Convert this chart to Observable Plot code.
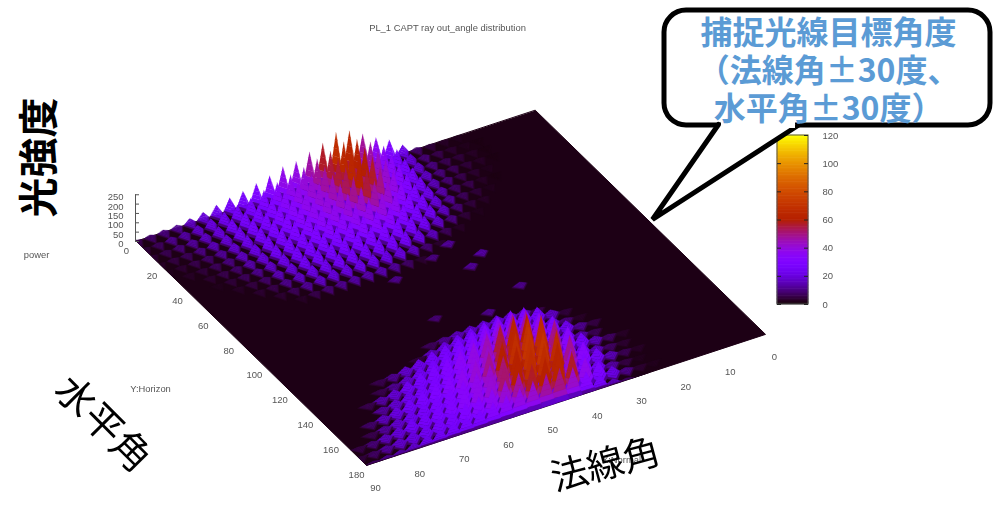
<!DOCTYPE html>
<html><head><meta charset="utf-8">
<script src="https://cdn.jsdelivr.net/npm/d3@7"></script>
<script src="https://cdn.jsdelivr.net/npm/@observablehq/plot@0.6"></script>
<style>html,body{margin:0;background:#fff}svg{display:block}</style>
</head><body><div id="chart"></div>
<script>
const normalCols = [90,87,84,81,78,75,72,69,66,63,60,57,54,51,48,45,42,39,36,33,30,27,24,21,18,15,12];
const backRows = [0,6,12,18,24,30,36,42,48,54,60,66];
const backPower = [
[8,12,15,18,30,40,55,70,82,100,118,143,148,175,198,232,218,178,135,100,50,12,6,4,3,0,0],
[6,10,18,22,34,46,58,72,84,104,122,140,155,178,195,222,212,175,130,88,42,14,8,5,3,2,0],
[5,9,14,20,32,44,60,76,88,106,124,142,158,176,195,220,206,170,125,80,36,16,9,6,4,2,0],
[4,7,10,16,26,40,58,78,90,108,124,140,155,172,190,210,198,160,118,72,32,15,10,6,4,2,0],
[3,5,8,12,20,36,54,74,90,106,120,136,150,165,180,195,182,146,106,62,28,14,8,5,3,0,0],
[0,4,6,10,16,30,48,68,86,100,114,128,140,152,165,175,160,126,90,52,24,12,8,4,2,0,0],
[0,0,5,8,12,24,42,60,80,92,104,116,126,136,145,150,136,106,74,42,20,10,6,3,0,0,0],
[0,0,3,6,10,18,34,52,70,82,92,102,110,118,122,122,108,84,56,32,14,6,4,0,0,0,0],
[0,0,0,4,7,12,26,42,60,70,78,86,92,98,98,94,80,60,36,16,6,3,0,0,0,0,0],
[0,0,0,0,5,8,18,32,48,56,62,68,72,74,72,66,50,28,10,4,0,0,0,0,0,0,0],
[0,0,0,0,0,5,10,20,32,42,46,50,52,50,44,30,14,5,0,0,0,0,0,0,0,0,0],
[0,0,0,0,0,0,4,8,14,18,22,24,24,20,12,5,0,0,0,0,0,0,0,0,0,0,0]];
const frontRows = [120,126,132,138,144,150,156,162,168,174,180];
const frontShift = [1.5,0,1.5,0,1.5,0,1.5,0,1.5,0,1.5];
const frontPower = [
[0,0,0,0,0,0,0,0,0,0,0,10,18,26,32,36,40,36,26,8,0,0,0,0,0,0,0],
[0,0,0,0,0,0,0,0,0,6,26,44,58,70,80,88,96,90,68,30,6,0,0,0,0,0,0],
[0,0,0,0,0,0,8,18,34,50,68,80,92,104,118,132,136,118,88,42,14,4,0,0,0,0,0],
[0,0,0,0,0,8,18,34,56,76,92,108,122,142,160,180,176,140,100,52,18,7,0,0,0,0,0],
[0,0,0,0,8,22,38,58,80,98,110,130,148,172,195,218,208,162,115,62,22,9,0,0,0,0,0],
[0,0,0,0,20,36,54,74,94,110,126,146,165,195,220,238,230,182,124,66,26,11,4,0,0,0,0],
[0,0,0,12,28,46,64,84,104,118,136,156,180,208,235,245,232,185,126,68,27,11,5,0,0,0,0],
[0,0,8,20,36,54,72,92,108,122,142,162,185,212,238,245,230,180,122,64,25,9,4,0,0,0,0],
[0,7,14,28,42,62,72,92,106,124,142,158,186,210,232,232,214,164,112,58,21,7,3,0,0,0,0],
[6,11,20,34,46,58,76,86,106,118,136,158,176,198,210,216,198,142,96,47,17,5,3,0,0,0,0],
[7,11,18,24,38,54,62,78,88,100,116,130,146,160,176,182,163,116,76,31,11,3,0,0,0,0,0]];
const strayNormal = [38,34,43,38,53,43,53,33];
const strayHorizon = [63,75,68,81,74,112,105,102];
const strayPower = [20,22,16,20,18,18,14,18];

const horizonTicks = [0,20,40,60,80,100,120,140,160,180];
const normalTicks = [0,10,20,30,40,50,60,70,80,90];
const powerTicks = [0,50,100,150,200,250];
const colorTicks = [0,20,40,60,80,100,120];
const powerToColor = {power:[0,8,25,60,100,130,170,200,250], level:[0,6,15,24,29,35,44,58,72]};

// Parallel 3D view of the gnuplot surface onto the chart plane
const view = {x0:136,y0:241,nx:4.433,ny:-1.456,hx:1.278,hy:1.244,z:-0.187};
const X = (n,h) => view.x0 + (90-n)*view.nx + h*view.hx;
const Y = (n,h,p=0) => view.y0 + (90-n)*view.ny + h*view.hy + p*view.z;
const level = d3.scaleLinear(powerToColor.power, powerToColor.level);
const gnu = t => {
  const c = v => Math.round(255*Math.max(0,Math.min(1,v)));
  return `rgb(${c(Math.sqrt(t))},${c(t*t*t)},${c(Math.sin(2*Math.PI*t))})`;
};
const layers = 6;
let id = 0;
function spike(n,h,p,dn,dh,out){
  if(p<=0) return;
  const pt=(a,b,f)=>({n:Math.min(90,n+a*(1-f)),h:Math.min(180,h+b*(1-f)),p:p*f});
  for(let k=0;k<layers;k++){
    const f0=k/layers,f1=(k+1)/layers,lv=1.6+(level(p)-1.6)*Math.min(1,0.08+3.2*(f0+f1)/2);
    const poly=[pt(dn,0,f0),pt(0,dh,f0),pt(-dn,0,f0),pt(-dn,0,f1),pt(0,dh,f1),pt(dn,0,f1)];
    id++;
    for(const q of poly) out.push({...q,id,lv});
  }
}
const cells=[];
function addGrid(rows,power,dn,dh,shift){
  rows.forEach((h,r)=>{
    // paint far (low N) first within each row
    for(let c=normalCols.length-1;c>=0;c--) spike(normalCols[c]+(shift?shift[r]:0),h,power[r][c],dn,dh,cells);
  });
}
addGrid(backRows,backPower,1.5,5.5);
strayNormal.forEach((n,i)=>spike(n,strayHorizon[i],strayPower[i],1.8,3.5,cells));
addGrid(frontRows,frontPower,2.2,4.5,frontShift);

const plane=[[0,0],[0,180],[90,180],[90,0]].map(([n,h])=>({n,h,lv:1.6,id:"plane"}));
const colorSteps=d3.range(0,120,1);
const cbX=[777,808], cbY=v=>304-v*169/120;
const greyFont={fontFamily:"Liberation Sans, Arial, sans-serif",fill:"#555",stroke:null,imageFilter:"blur(0.3px)"};
const jp="'Noto Sans CJK JP'";
const calloutText="捕捉光線目標角度\n（法線角±30度、\n水平角±30度）";

const chart=Plot.plot({
  width:994,height:505,margin:0,
  x:{domain:[0,994],range:[0,994],axis:null},
  y:{domain:[0,505],range:[0,505],axis:null},
  color:{type:"linear",domain:[0,120],interpolate:gnu},
  marks:[
    Plot.line(plane,{x:d=>X(d.n,d.h),y:d=>Y(d.n,d.h),z:"id",fill:"lv",stroke:"lv",strokeWidth:1,curve:"linear-closed"}),
    Plot.line(cells,{x:d=>X(d.n,d.h),y:d=>Y(d.n,d.h,d.p),z:"id",fill:"lv",stroke:"lv",strokeWidth:0.3,imageFilter:"blur(0.5px)"}),
    // z axis
    Plot.ruleX([135],{y1:Y(90,0,0),y2:Y(90,0,250),stroke:"#555",strokeWidth:1}),
    Plot.ruleY(powerTicks,{x1:135,x2:139,y:p=>Y(90,0,p),stroke:"#555"}),
    Plot.text(powerTicks,{x:123,y:p=>Y(90,0,p)+2.5,text:p=>String(p),textAnchor:"end",fontSize:9.5,...greyFont}),
    Plot.text(horizonTicks,{x:h=>X(90,h),y:h=>Y(90,h),text:h=>String(h),dx:-10,dy:9.5,fontSize:9.5,...greyFont}),
    Plot.text(normalTicks,{x:n=>X(n,180),y:n=>Y(n,180),text:n=>String(n),dx:9,dy:23,fontSize:9.5,...greyFont}),
    Plot.text(["PL_1 CAPT ray out_angle distribution"],{x:[447],y:[27],fontSize:9.4,...greyFont}),
    Plot.text(["power"],{x:[36],y:[254],fontSize:9.4,...greyFont}),
    Plot.text(["Y:Horizon"],{x:[150],y:[388],fontSize:9.4,...greyFont}),
    Plot.text(["X:Normal"],{x:[621],y:[459],fontSize:9.4,...greyFont}),
    // colour bar
    Plot.rect(colorSteps,{x1:cbX[0],x2:cbX[1],y1:v=>cbY(v),y2:v=>cbY(v+1),fill:v=>v+0.5,inset:-0.3}),
    Plot.rect([0],{x1:cbX[0],x2:cbX[1],y1:cbY(0),y2:cbY(120),fill:"none",stroke:"#555"}),
    Plot.ruleY(colorTicks,{x1:cbX[0],x2:cbX[0]+4,y:cbY,stroke:"#222"}),
    Plot.ruleY(colorTicks,{x1:cbX[1]-4,x2:cbX[1],y:cbY,stroke:"#222"}),
    Plot.text(colorTicks,{x:822,y:cbY,text:v=>String(v),textAnchor:"start",fontSize:9.5,...greyFont}),
    // callout
    Plot.rect([0],{x1:664,x2:990,y1:10,y2:125,rx:22,fill:"white",stroke:"black",strokeWidth:5}),
    Plot.line([[718,124],[652,219],[799,124]],{x:d=>d[0],y:d=>d[1],fill:"white",stroke:"black",strokeWidth:5,strokeLinejoin:"miter"}),
    Plot.ruleY([124.5],{x1:721,x2:795,stroke:"white",strokeWidth:6}),
    Plot.text([calloutText],{x:[828],y:[69],lineHeight:1.19,fontSize:32,fontWeight:"bold",fontFamily:jp,fill:"#5b9bd5"}),
    // hand annotations
    Plot.text(["光強度"],{x:[40],y:[157],rotate:-90,fontSize:40,fontWeight:"bold",fontFamily:jp,fill:"black"}),
    Plot.text(["水平角"],{x:[102],y:[424],rotate:45,fontSize:39,fontFamily:jp,fill:"black"}),
    Plot.text(["法線角"],{x:[605],y:[465],rotate:-15,fontSize:37,fontFamily:jp,fill:"black"})
  ]
});
document.getElementById("chart").append(chart);
</script></body></html>
